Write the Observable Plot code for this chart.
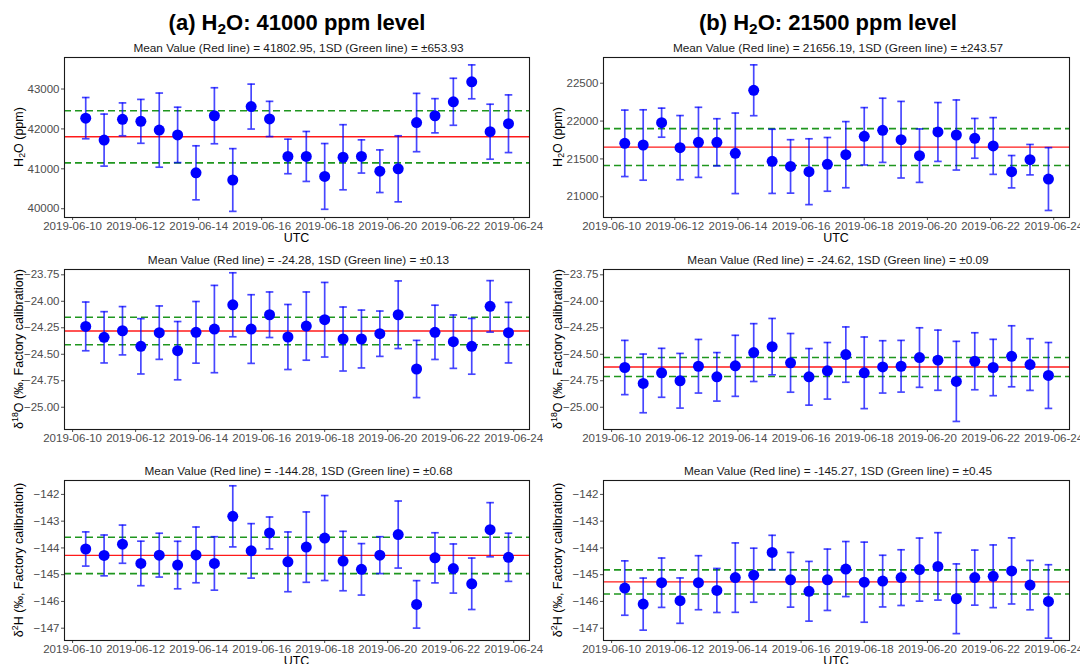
<!DOCTYPE html>
<html><head><meta charset="utf-8">
<script src="https://cdn.jsdelivr.net/npm/d3@7"></script>
<script src="https://cdn.jsdelivr.net/npm/@observablehq/plot@0.6"></script>
<style>
html,body{margin:0;padding:0;background:#fff;overflow:hidden;}
#fig{position:relative;width:1080px;height:664px;overflow:hidden;font-family:"Liberation Sans",Arial,Helvetica,sans-serif;}
.abs{position:absolute;white-space:nowrap;line-height:1;}
.abs sub{font-size:70%;vertical-align:-0.25em;line-height:0;}
.abs sup{font-size:70%;vertical-align:0.5em;line-height:0;}
</style></head><body><div id="fig"></div>
<script>
// ---- data ----
const times = ["2019-06-10T10:00Z","2019-06-11T00:00Z","2019-06-11T14:00Z","2019-06-12T04:00Z","2019-06-12T18:00Z","2019-06-13T08:00Z",
  "2019-06-13T22:00Z","2019-06-14T12:00Z","2019-06-15T02:00Z","2019-06-15T16:00Z","2019-06-16T06:00Z","2019-06-16T20:00Z",
  "2019-06-17T10:00Z","2019-06-18T00:00Z","2019-06-18T14:00Z","2019-06-19T04:00Z","2019-06-19T18:00Z","2019-06-20T08:00Z",
  "2019-06-20T22:00Z","2019-06-21T12:00Z","2019-06-22T02:00Z","2019-06-22T16:00Z","2019-06-23T06:00Z","2019-06-23T20:00Z"];

const h2oA   = [42270,41720,42240,42190,41970,41850,40900,42330,40720,42560,42250,41310,41310,40810,41290,41310,40940,41000,42160,42330,42680,43180,41930,42130];
const h2oAsd = [517,652,412,550,929,694,677,702,786,563,441,433,626,824,816,416,534,828,731,429,589,425,689,723];
const h2oB   = [21706,21684,21979,21649,21719,21719,21574,22407,21468,21401,21331,21428,21556,21799,21878,21754,21543,21856,21816,21772,21671,21331,21490,21234];
const h2oBsd = [439,465,192,424,463,312,532,336,424,353,435,355,437,379,424,506,353,389,463,263,375,214,201,415];

const d18oA   = [-24.237,-24.340,-24.278,-24.425,-24.296,-24.466,-24.293,-24.262,-24.033,-24.262,-24.127,-24.337,-24.234,-24.174,-24.356,-24.356,-24.306,-24.127,-24.639,-24.293,-24.381,-24.425,-24.048,-24.296];
const d18oAsd = [0.230,0.242,0.228,0.261,0.252,0.275,0.291,0.412,0.302,0.324,0.215,0.307,0.322,0.352,0.302,0.273,0.214,0.319,0.270,0.256,0.252,0.263,0.243,0.286];
const d18oB   = [-24.625,-24.775,-24.675,-24.750,-24.613,-24.713,-24.609,-24.484,-24.428,-24.581,-24.713,-24.656,-24.503,-24.675,-24.619,-24.613,-24.531,-24.556,-24.756,-24.566,-24.625,-24.519,-24.597,-24.700];
const d18oBsd = [0.256,0.277,0.231,0.258,0.253,0.229,0.288,0.273,0.266,0.277,0.267,0.267,0.261,0.338,0.247,0.244,0.281,0.284,0.378,0.269,0.266,0.288,0.244,0.311];

const d2hA   = [-144.04,-144.28,-143.86,-144.58,-144.27,-144.64,-144.26,-144.58,-142.82,-144.11,-143.44,-144.52,-143.97,-143.63,-144.49,-144.80,-144.27,-143.50,-146.11,-144.37,-144.77,-145.34,-143.32,-144.35];
const d2hAsd = [0.639,0.763,0.714,0.832,0.819,0.888,1.042,0.999,1.142,1.018,0.596,1.117,1.315,1.588,1.111,0.962,0.689,1.253,0.887,0.937,0.918,0.962,1.012,0.900];
const d2hB   = [-145.50,-146.10,-145.30,-145.97,-145.30,-145.59,-145.11,-145.02,-144.17,-145.19,-145.62,-145.19,-144.79,-145.28,-145.24,-145.11,-144.81,-144.69,-145.90,-145.11,-145.06,-144.86,-145.39,-146.00];
const d2hBsd = [1.016,0.973,0.923,0.848,1.010,0.823,1.297,1.010,0.642,1.023,1.116,1.147,1.029,1.497,0.966,1.041,1.179,1.260,1.303,1.029,1.172,1.235,0.923,1.372];

// mean and 1SD per panel: [a-H2O, b-H2O, a-d18O, b-d18O, a-d2H, b-d2H]
const meanValues = [41802.95, 21656.19, -24.28, -24.62, -144.28, -145.27];
const sdValues   = [653.93, 243.57, 0.13, 0.09, 0.68, 0.45];
const meanLabels = ["41802.95","21656.19","-24.28","-24.62","-144.28","-145.27"];
const sdLabels   = ["653.93","243.57","0.13","0.09","0.68","0.45"];

const xTickDates = ["2019-06-10","2019-06-12","2019-06-14","2019-06-16","2019-06-18","2019-06-20","2019-06-22","2019-06-24"];
const yTicksH2OA = [40000,41000,42000,43000];
const yTicksH2OB = [21000,21500,22000,22500];
const yTicksD18O = [-25.00,-24.75,-24.50,-24.25,-24.00,-23.75];
const yTicksD2H  = [-147,-146,-145,-144,-143,-142];

const mainTitles = ["(a) H<sub>2</sub>O: 41000 ppm level", "(b) H<sub>2</sub>O: 21500 ppm level"];
const yLabels = ["H<sub>2</sub>O (ppm)", "&delta;<sup>18</sup>O (&permil;, Factory calibration)", "&delta;<sup>2</sup>H (&permil;, Factory calibration)"];

// ---- layout ----
const fig = document.getElementById("fig");
const FONT = "'Liberation Sans', Arial, Helvetica, sans-serif";
const xDomain = [new Date("2019-06-09T17:50Z"), new Date("2019-06-24T12:00Z")];
const colLeft = [0, 539];
const rowTop = [37, 249, 460];
const MT = 20, PH = 160, ML = 64, MB = 32;

function text(html, cx, cy, size, opts = {}) {
  const d = document.createElement("div");
  d.className = "abs";
  d.innerHTML = html;
  d.style.left = cx + "px";
  d.style.top = cy + "px";
  d.style.fontSize = size + "px";
  d.style.fontWeight = opts.bold ? "bold" : "normal";
  d.style.color = opts.color || "#000";
  d.style.transform = "translate(-50%,-50%)" + (opts.rotate ? " rotate(-90deg)" : "");
  fig.appendChild(d);
}

const capSymbol = {draw(ctx, size) { const w = Math.sqrt(size / Math.PI); ctx.moveTo(-w, 0); ctx.lineTo(w, 0); }};

function panel(idx, row, col, vals, sds, yDomain, yTicks, yFmt) {
  const data = times.map((t, i) => ({t: new Date(t), v: vals[i], lo: vals[i] - sds[i], hi: vals[i] + sds[i]}));
  const mean = meanValues[idx], sd = sdValues[idx];
  const MR = col === 0 ? 11 : 10;
  const p = Plot.plot({
    width: 540, height: MT + PH + MB,
    marginLeft: ML, marginRight: MR, marginTop: MT, marginBottom: MB,
    style: {fontFamily: FONT, fontSize: "11.5px", color: "#4d4d4d", background: "transparent", overflow: "visible"},
    x: {type: "utc", domain: xDomain, ticks: xTickDates.map(s => new Date(s + "T00:00Z")), tickFormat: d3.utcFormat("%Y-%m-%d"), tickSize: 3, tickPadding: 1.5, label: null},
    y: {domain: yDomain, ticks: yTicks, tickFormat: yFmt, tickSize: 3, tickPadding: 2, label: null},
    marks: [
      Plot.ruleY([mean], {stroke: "#ff1a1a", strokeWidth: 1.4}),
      Plot.ruleY([mean - sd, mean + sd], {stroke: "#1f961f", strokeWidth: 1.6, strokeDasharray: "7,4"}),
      Plot.ruleX(data, {x: "t", y1: "lo", y2: "hi", stroke: "#0000ff", strokeOpacity: 0.72, strokeWidth: 1.7}),
      Plot.dot(data, {x: "t", y: "hi", symbol: capSymbol, r: 3.8, fill: "none", stroke: "#0000ff", strokeOpacity: 0.72, strokeWidth: 1.7}),
      Plot.dot(data, {x: "t", y: "lo", symbol: capSymbol, r: 3.8, fill: "none", stroke: "#0000ff", strokeOpacity: 0.72, strokeWidth: 1.7}),
      Plot.dot(data, {x: "t", y: "v", r: 5.5, fill: "#0000ff", stroke: "none"}),
      Plot.frame({stroke: "#1a1a1a", strokeWidth: 1.1})
    ]
  });
  p.style.position = "absolute";
  p.style.left = colLeft[col] + "px";
  p.style.top = rowTop[row] + "px";
  p.style.overflow = "visible";
  p.style.background = "transparent";
  fig.appendChild(p);

  const fTop = rowTop[row] + MT, fBot = fTop + PH;
  const cx = colLeft[col] + ML + (540 - ML - MR) / 2;
  text(`Mean Value (Red line) = ${meanLabels[idx]}, 1SD (Green line) = \u00b1${sdLabels[idx]}`, cx + 2, fTop - 8, 11.8, {color: "#1a1a1a"});
  text(yLabels[row], colLeft[col] + 19, fTop + PH / 2, 12.5, {rotate: true});
  if (row !== 1) text("UTC", cx, fBot + 21, 12.5);
}

const f0 = d3.format("d"), f2 = d3.format(".2f");
panel(0, 0, 0, h2oA, h2oAsd, [39780, 43790], yTicksH2OA, f0);
panel(1, 0, 1, h2oB, h2oBsd, [20726, 22840], yTicksH2OB, f0);
panel(2, 1, 0, d18oA, d18oAsd, [-25.21, -23.70], yTicksD18O, f2);
panel(3, 1, 1, d18oB, d18oBsd, [-25.21, -23.70], yTicksD18O, f2);
panel(4, 2, 0, d2hA, d2hAsd, [-147.46, -141.48], yTicksD2H, f0);
panel(5, 2, 1, d2hB, d2hBsd, [-147.46, -141.48], yTicksD2H, f0);

text(mainTitles[0], 297, 22.5, 22, {bold: true});
text(mainTitles[1], 828, 22.5, 22, {bold: true});
</script></body></html>
